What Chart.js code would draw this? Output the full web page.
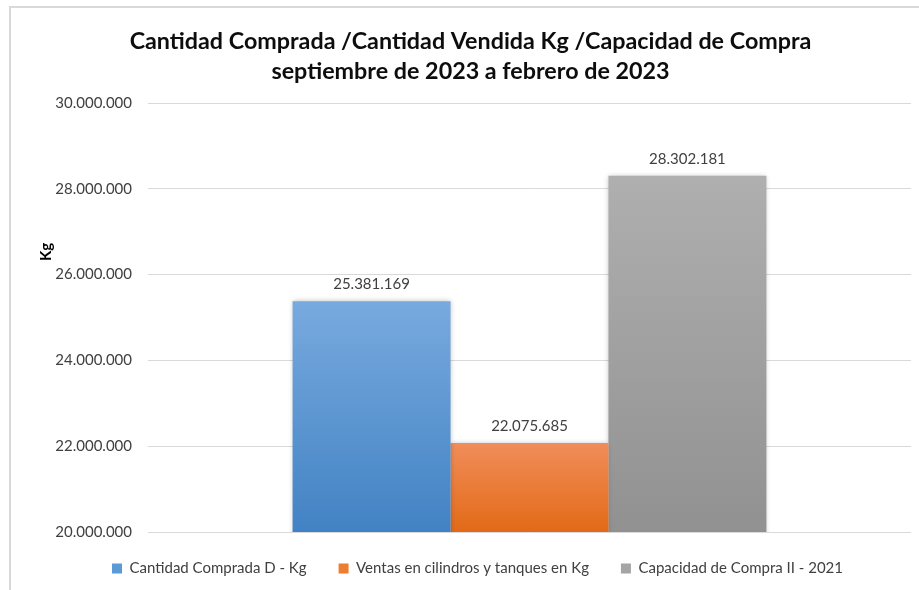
<!DOCTYPE html>
<html>
<head>
<meta charset="utf-8">
<script src="https://cdn.jsdelivr.net/npm/chart.js@4.4.0/dist/chart.umd.min.js"></script>
<style>
  html, body { margin: 0; padding: 0; background: #ffffff; }
  canvas { display: block; }
</style>
</head>
<body>
<canvas id="myChart" width="919" height="590"></canvas>
<script>
// datos
var categorias = [''];
var series = ['Cantidad Comprada D - Kg', 'Ventas en cilindros y tanques en Kg', 'Capacidad de Compra II - 2021'];
var compradaKg = [25381169];
var ventasKg = [22075685];
var capacidadKg = [28302181];
var ticksEje = [20000000, 22000000, 24000000, 26000000, 28000000, 30000000];

var tituloGrafico = ['Cantidad Comprada /Cantidad Vendida Kg /Capacidad de Compra', 'septiembre de 2023 a febrero de 2023'];

// colores (arriba, abajo) para el degradado de cada barra
var degradados = [
    ['#78aade', '#4282c4'],
    ['#f18d5a', '#e26a17'],
    ['#afafaf', '#919191']
];
var coloresLeyenda = ['#5b9bd5', '#ed7d31', '#a5a5a5'];

var fuente = 'Lato, "Open Sans", sans-serif';

function formatoMiles(v) {
    return String(Math.round(v)).replace(/\B(?=(\d{3})+(?!\d))/g, '.');
}

// degradado vertical desde la parte superior de la barra hasta la base
function rellenoBarra(idx) {
    return function (context) {
        var chart = context.chart;
        var area = chart.chartArea;
        if (!area || context.raw === undefined) return coloresLeyenda[idx];
        var yTop = chart.scales.y.getPixelForValue(context.raw);
        var g = chart.ctx.createLinearGradient(0, yTop, 0, area.bottom);
        g.addColorStop(0, degradados[idx][0]);
        g.addColorStop(1, degradados[idx][1]);
        return g;
    };
}

// marco gris del gráfico
var marco = {
    id: 'marco',
    beforeDraw: function (chart) {
        var c = chart.ctx;
        c.save();
        c.fillStyle = '#ffffff';
        c.fillRect(0, 0, chart.width, chart.height);
        c.strokeStyle = '#d9d9d9';
        c.lineWidth = 2;
        c.beginPath();
        c.moveTo(10, chart.height + 2);
        c.lineTo(10, 7);
        c.lineTo(chart.width + 2, 7);
        c.stroke();
        c.restore();
    }
};

// sombra suave en las barras
var sombra = {
    id: 'sombra',
    beforeDatasetsDraw: function (chart) {
        var c = chart.ctx;
        c.save();
        c.shadowColor = 'rgba(0,0,0,0.25)';
        c.shadowBlur = 5;
        c.shadowOffsetX = 0;
        c.shadowOffsetY = 0;
    },
    afterDatasetsDraw: function (chart) {
        chart.ctx.restore();
    }
};

// etiquetas de valor encima de cada barra
var etiquetas = {
    id: 'etiquetas',
    afterDatasetsDraw: function (chart) {
        var c = chart.ctx;
        c.save();
        c.font = '15px ' + fuente;
        c.fillStyle = '#404040';
        c.textAlign = 'center';
        c.textBaseline = 'middle';
        chart.data.datasets.forEach(function (ds, i) {
            var meta = chart.getDatasetMeta(i);
            meta.data.forEach(function (bar, j) {
                c.fillText(formatoMiles(ds.data[j]), bar.x, bar.y - 17);
            });
        });
        c.restore();
    }
};

// título del eje vertical
var tituloEje = {
    id: 'tituloEje',
    afterDraw: function (chart) {
        var c = chart.ctx;
        c.save();
        c.translate(46, 252);
        c.rotate(-Math.PI / 2);
        c.font = 'bold 15px ' + fuente;
        c.fillStyle = '#000000';
        c.textAlign = 'center';
        c.textBaseline = 'middle';
        c.fillText('Kg', 0, 0);
        c.restore();
    }
};

// ajuste fino de la posición de la leyenda y del título
var posiciones = {
    id: 'posiciones',
    afterLayout: function (chart) {
        var lg = chart.legend;
        lg.left += 17;
        lg.right += 17;
        lg.top -= 4;
        lg.bottom -= 4;
        var tb = chart.titleBlock;
        tb.left += 10;
        tb.right += 10;
    }
};

var ctx = document.getElementById('myChart').getContext('2d');

var data = {
    labels: categorias,
    datasets: [{
        label: series[0],
        data: compradaKg,
        backgroundColor: rellenoBarra(0)
    }, {
        label: series[1],
        data: ventasKg,
        backgroundColor: rellenoBarra(1)
    }, {
        label: series[2],
        data: capacidadKg,
        backgroundColor: rellenoBarra(2)
    }]
};

var options = {
    responsive: false,
    animation: false,
    layout: {
        padding: { left: 10, right: 8, top: 0, bottom: 0 }
    },
    datasets: {
        bar: {
            barPercentage: 1,
            categoryPercentage: 0.621,
            borderWidth: 0
        }
    },
    scales: {
        x: {
            grid: { display: false },
            border: { display: false },
            ticks: { display: false },
            afterFit: function (scale) { scale.height = 1; }
        },
        y: {
            min: 20000000,
            max: 30000000,
            afterBuildTicks: function (scale) {
                scale.ticks = ticksEje.map(function (v) { return { value: v }; });
            },
            afterFit: function (scale) { scale.width = 138; },
            grid: {
                color: '#d9d9d9',
                lineWidth: 1,
                drawTicks: false
            },
            border: { display: false },
            ticks: {
                padding: 16,
                color: '#404040',
                font: { family: fuente, size: 15 },
                callback: function (v) { return formatoMiles(v); }
            }
        }
    },
    plugins: {
        title: {
            display: true,
            text: tituloGrafico,
            color: '#0d0d0d',
            font: { family: fuente, size: 23.3, weight: 'bold', lineHeight: 1.31 },
            padding: { top: 26, bottom: 16 }
        },
        legend: {
            position: 'bottom',
            labels: {
                boxWidth: 10,
                boxHeight: 10,
                padding: 32,
                color: '#404040',
                font: { family: fuente, size: 15 },
                generateLabels: function (chart) {
                    return chart.data.datasets.map(function (ds, i) {
                        return {
                            text: ds.label,
                            fillStyle: coloresLeyenda[i],
                            strokeStyle: coloresLeyenda[i],
                            lineWidth: 0,
                            fontColor: '#404040',
                            hidden: !chart.isDatasetVisible(i),
                            datasetIndex: i
                        };
                    });
                }
            }
        },
        tooltip: { enabled: false }
    }
};

var myChart = new Chart(ctx, {
    type: 'bar',
    data: data,
    options: options,
    plugins: [marco, sombra, etiquetas, tituloEje, posiciones]
});
</script>
</body>
</html>
